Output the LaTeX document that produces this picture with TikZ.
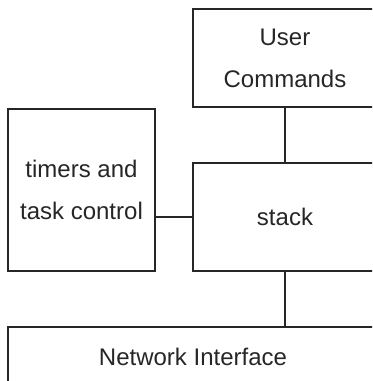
\documentclass[tikz,border=0pt]{standalone}
\usepackage{fontspec}
\setmainfont{Liberation Sans}
\begin{document}
\begin{tikzpicture}[x=0.5pt,y=-0.5pt]
 \tikzset{blk/.style={draw=black!85, line width=1pt, align=center, inner sep=0pt,
   font=\fontsize{12}{21}\selectfont, text=black!85}, %箱
  link/.style={draw=black!85, line width=1pt}} %線
 \useasboundingbox (0,0) rectangle (372,381); %画面
 \clip (0,0) rectangle (372,381);
 \node[blk, minimum width=92pt, minimum height=49pt] (user) at (285,58) {User\\Commands}; %上
 \node[blk, minimum width=92pt, minimum height=54pt] (stack) at (285,217) {stack}; %中
 \node[blk, minimum width=73.5pt, minimum height=81pt] (timers) at (81.5,190) {timers and\\task control}; %左
 \node[blk, minimum width=185pt, minimum height=30pt] (net) at (193,357) {Network Interface}; %下
 \draw[link] (user.south)--(stack.north);
 \draw[link] (stack.west)--(stack.west -| timers.east);
 \draw[link] (stack.south)--(stack.south |- net.north);
\end{tikzpicture}
\end{document}
